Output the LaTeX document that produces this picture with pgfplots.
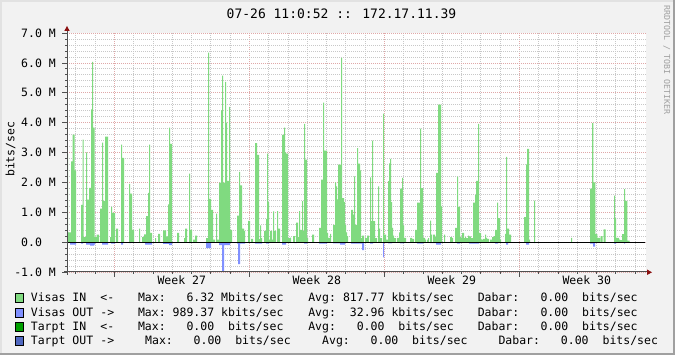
\documentclass[border=0pt]{standalone}
\usepackage{fontspec}
\setmainfont{DejaVu Sans Mono}
\usepackage{pgfplots}
\pgfplotsset{compat=1.18}
\definecolor{bgc}{HTML}{F2F2F2}
\definecolor{bdl}{HTML}{E2E2E2}
\definecolor{bdd}{HTML}{A0A0A0}
\definecolor{inG}{HTML}{80DA80}
\definecolor{outB}{HTML}{8090FF}
\definecolor{tinG}{HTML}{00A000}
\definecolor{toutB}{HTML}{5068C0}
\definecolor{gridR}{HTML}{E0A8A8}
\definecolor{gridG}{HTML}{C8C8C8}
\definecolor{axG}{HTML}{505050}
\definecolor{arrR}{HTML}{8B1010}
\definecolor{wm}{HTML}{A0A0A0}
\newcommand{\lf}{\fontsize{11.5bp}{13bp}\selectfont}
\begin{document}
\begin{tikzpicture}
\fill[bgc] (0,0) rectangle (675bp,355bp);
\fill[bdl] (0,0) rectangle (2bp,355bp);
\fill[bdl] (0,353bp) rectangle (675bp,355bp);
\fill[bdd] (673bp,0) rectangle (675bp,355bp);
\fill[bdd] (0,0) rectangle (675bp,2bp);
\begin{axis}[
  at={(67bp,83bp)}, anchor=south west, scale only axis,
  width=579bp, height=239bp,
  xmin=67, xmax=646, ymin=-1, ymax=7,
  axis background/.style={fill=white},
  axis line style={draw=none},
  xtick={114.29,249.29,384.29,519.29},
  xticklabels={},
  minor xtick={75.71,95,133.57,152.86,172.14,191.43,210.71,230,268.57,287.86,307.14,326.43,345.71,365,403.57,422.86,442.14,461.43,480.71,500,538.57,557.86,577.14,596.43,615.71,635},
  ytick={-1,0,1,2,3,4,5,6,7},
  yticklabels={-1.0 M,0.0\phantom{\ M},1.0 M,2.0 M,3.0 M,4.0 M,5.0 M,6.0 M,7.0 M},
  minor y tick num=4,
  xmajorgrids, xminorgrids, ymajorgrids, yminorgrids,
  major grid style={gridR, line width=0.7bp, dash pattern=on 1bp off 1bp},
  minor grid style={gridG, line width=0.7bp, dash pattern=on 1bp off 1bp},
  tick align=outside, xtick pos=bottom, ytick pos=left,
  major tick length=5bp, minor tick length=2bp,
  every tick/.style={axG, line width=0.7bp},
  yticklabel style={font=\lf, anchor=east, inner sep=0pt, xshift=-6bp},
  extra x ticks={181.79,316.79,451.79,586.79},
  extra x tick labels={Week 27,Week 28,Week 29,Week 30},
  extra x tick style={grid=none, major tick length=0pt, xticklabel style={font=\lf, anchor=base, inner sep=0pt, yshift=-13bp}},
]
\addplot[const plot, fill=inG, draw=none] coordinates {
(67,2.95)(68,0.33)(71,2.7)(72.7,3.6)(74.7,2.4)(76,0)(81,1.25)(82.7,3.43)(83.7,0.17)(86,3.0)(87,1.42)(89,1.82)(91,4.44)(92,6.03)(93,3.83)(94.7,0.17)(96.7,0.25)(99,0)(100,1.12)(102,3.33)(103,1.38)(105,3.53)(108,0)(110,0.17)(111,1.18)(112,0.98)(115,0)(116,0.45)(118,0)(121,3.26)(122,2.82)(124,0)(129,1.95)(130,1.62)(132,0.41)(134,0)(139,0.45)(140,0)(142,0.17)(144,0.26)(146,0.87)(148,1.65)(149,3.26)(150,0.31)(152,0)(155,0.13)(156,0)(158,0.28)(160,0)(163,0.39)(166,0.19)(168,1.26)(169,3.83)(170,3.29)(172,0)(177,0.31)(179,0)(184,0.13)(185,0.45)(187,0)(189,2.29)(190,0.41)(192,0)(193,0.08)(195,0.22)(197,0)(206,0.13)(208,6.34)(209,1.45)(211,1.08)(213,0.08)(215,0)(216,0.95)(217,0.08)(219,1.99)(221,4.41)(222,5.57)(223,1.99)(225,5.36)(226,4.0)(227,2.05)(229,4.53)(230,0.41)(232,0)(237,0.89)(239,2.35)(240,1.9)(242,0.45)(244,0.38)(245,0)(248,0.71)(250,0)(251,0.11)(253,0)(255,3.31)(257,2.92)(259,0.1)(260,0.56)(261,0.13)(262,0)(264,0.38)(266,0.78)(267,2.96)(268,1.34)(269,0.08)(270,0.38)(272,0.08)(273,1.03)(274,0.38)(276,0)(277,1.04)(278,0.45)(280,0)(282,3.59)(284,3.83)(285,3.0)(286,2.96)(288,0.13)(290,0.15)(291,0)(293,0.2)(295,0)(296,0.65)(298,0.17)(299,1.04)(300,0.41)(302,1.37)(303,0.37)(304,3.96)(305,2.76)(307,0.13)(308,0)(312,0.25)(314,0)(319,0.48)(321,2.09)(323,4.67)(324,3.06)(327,0.31)(328,0.14)(330,0.28)(331,0)(333,0.58)(335,2.0)(336,1.87)(337,1.43)(338,2.59)(341,6.17)(342,1.47)(344,1.34)(345,0.58)(346,0.33)(347,0.2)(348,0)(351,1.08)(353,0.92)(354,2.2)(355,0.58)(357,3.15)(358,2.63)(360,2.4)(361,0.13)(362,0.22)(364,0)(365,0.13)(367,0.22)(369,0)(370,2.17)(371,0.7)(372,3.4)(373,0.7)(375,0.13)(377,0)(378,1.87)(379,0.45)(380,0.13)(382,0)(383,4.3)(384,0.25)(386,0.08)(388,2.04)(389,2.64)(390,2.79)(391,1.34)(392,0.48)(393,0.22)(394,0.13)(396,0)(397,0.14)(399,0.33)(400,1.79)(402,2.15)(403,0.56)(404,0.14)(406,0)(410,0.14)(412,0.11)(414,0)(415,0.41)(417,1.32)(420,3.8)(421,1.81)(423,0.14)(425,0.08)(426,0)(427,0.08)(428,0.13)(429,0)(430,0.72)(431,0.25)(432,0)(433,0.25)(435,0.17)(436,2.32)(438,4.6)(441,1.2)(442,0)(444,0.25)(445,0)(450,0.17)(452,0.13)(453,0)(455,0.48)(457,2.19)(458,1.18)(460,0.18)(461,0.13)(462,0.31)(464,0.13)(465,0.17)(466,0.13)(468,0.22)(469,0.19)(471,0.13)(473,1.32)(475,1.58)(476,2.05)(478,3.96)(479,0.31)(481,0.09)(482,0.08)(483,0.11)(485,0.25)(486,0.14)(487,0.11)(489,0)(490,0.08)(492,0.17)(494,0.2)(495,0.41)(497,1.32)(498,0.8)(500,0.08)(501,0)(505,0.28)(506,2.85)(507,0.45)(509,0.25)(511,0)(524,0.84)(526,2.6)(527,3.12)(529,0.08)(530,0)(534,1.39)(535,0)(571,0.14)(572,0)(590,1.79)(592,3.98)(593.3,2.0)(595.3,0.27)(597.3,0.14)(600,0)(600.7,0.2)(602.7,0)(603.7,0.43)(605.7,0)(614,1.56)(615,0.8)(616,0.14)(619,0.08)(620,0.07)(622,0.27)(624,1.77)(625,1.38)(627.3,0)(627.7,0.05)(629.7,0)(646,0)
} \closedcycle;
\addplot[const plot, fill=outB, draw=none] coordinates {
(67,-0.05)(68,0)(70,-0.08)(76,0)(81,-0.05)(83,0)(86,-0.08)(90,-0.12)(94,-0.08)(95,0)(102,-0.08)(108,0)(111,-0.05)(115,0)(121,-0.08)(123,0)(129,-0.03)(131,0)(145,-0.08)(152,0)(163,-0.06)(169,-0.1)(172,0)(189,-0.03)(190,0)(206,-0.2)(211,0)(219,-0.1)(222,-0.98)(224,-0.1)(230,0)(237,-0.05)(238,-0.74)(240,-0.05)(245,0)(255,-0.05)(262,0)(266,-0.05)(269,0)(282,-0.08)(286,0)(294,-0.03)(297,0)(304,-0.05)(307,0)(319,-0.05)(327,0)(333,-0.04)(340,-0.08)(345,0)(351,-0.05)(362,-0.27)(364,0)(370,-0.05)(373,0)(383,-0.51)(384,0)(388,-0.04)(392,0)(400,-0.04)(404,0)(417,-0.05)(423,0)(430,-0.03)(436,-0.08)(441,0)(457,-0.05)(460,0)(469,-0.05)(479,0)(495,-0.05)(498,0)(506,-0.08)(508,0)(526,-0.08)(529,0)(534,-0.03)(535,0)(590,-0.05)(593,-0.15)(595,0)(614,-0.05)(616,0)(624,-0.05)(625,0)(646,0)
} \closedcycle;
\draw[black, line width=1bp] (axis cs:67,0) -- (axis cs:645,0);
\end{axis}
% axes
\draw[axG, line width=1bp] (67bp,80bp) -- (67bp,326bp);
\draw[axG, line width=1bp] (64bp,83bp) -- (648bp,83bp);
\fill[arrR] (64.3bp,324bp) -- (69.7bp,324bp) -- (67bp,329bp) -- cycle;
\fill[arrR] (647bp,85.5bp) -- (647bp,80bp) -- (652bp,82.7bp) -- cycle;
% title and labels
\node[anchor=base, inner sep=0pt, font=\fontsize{13bp}{15bp}\selectfont] at (341.5bp,336.7bp) {07-26 11:0:52 :: 172.17.11.39};
\node[rotate=90, inner sep=0pt, font=\lf] at (10.5bp,205.8bp) {bits/sec};
\node[rotate=-90, inner sep=0pt, text=wm, font=\fontsize{8.3bp}{9bp}\selectfont] at (666.7bp,295bp) {RRDTOOL / TOBI OETIKER};
% legend
\foreach \b/\c in {53/inG,38.7/outB,24.5/tinG,10.5/toutB}{
  \filldraw[fill=\c, draw=black, line width=0.9bp] (15.5bp,\b bp-0.8bp) rectangle (23bp,\b bp+8.2bp);
}
\begin{scope}[every node/.style={anchor=base west, inner sep=0pt, font=\lf}]
\node at (30.7bp,53bp) {Visas IN};
\node at (100.2bp,53bp) {<-};
\node at (137.8bp,53bp) {Max:};
\node at (186.3bp,53bp) {6.32};
\node at (221bp,53bp) {Mbits/sec};
\node at (308.1bp,53bp) {Avg:};
\node at (342.8bp,53bp) {817.77};
\node at (391.3bp,53bp) {kbits/sec};
\node at (477.6bp,53bp) {Dabar:};
\node at (540.3bp,53bp) {0.00};
\node at (582bp,53bp) {bits/sec};
\node at (30.7bp,38.7bp) {Visas OUT};
\node at (100.2bp,38.7bp) {->};
\node at (137.8bp,38.7bp) {Max:};
\node at (172.5bp,38.7bp) {989.37};
\node at (221bp,38.7bp) {kbits/sec};
\node at (308.1bp,38.7bp) {Avg:};
\node at (349.7bp,38.7bp) {32.96};
\node at (391.3bp,38.7bp) {kbits/sec};
\node at (477.6bp,38.7bp) {Dabar:};
\node at (540.3bp,38.7bp) {0.00};
\node at (582bp,38.7bp) {bits/sec};
\node at (30.7bp,24.5bp) {Tarpt IN};
\node at (100.2bp,24.5bp) {<-};
\node at (137.8bp,24.5bp) {Max:};
\node at (186.3bp,24.5bp) {0.00};
\node at (227.9bp,24.5bp) {bits/sec};
\node at (308.1bp,24.5bp) {Avg:};
\node at (356.6bp,24.5bp) {0.00};
\node at (398.2bp,24.5bp) {bits/sec};
\node at (477.6bp,24.5bp) {Dabar:};
\node at (540.3bp,24.5bp) {0.00};
\node at (582bp,24.5bp) {bits/sec};
\node at (30.7bp,10.5bp) {Tarpt OUT};
\node at (100.2bp,10.5bp) {->};
\node at (145bp,10.5bp) {Max:};
\node at (193.5bp,10.5bp) {0.00};
\node at (235.1bp,10.5bp) {bits/sec};
\node at (322bp,10.5bp) {Avg:};
\node at (370.5bp,10.5bp) {0.00};
\node at (412bp,10.5bp) {bits/sec};
\node at (498.3bp,10.5bp) {Dabar:};
\node at (560.7bp,10.5bp) {0.00};
\node at (602.4bp,10.5bp) {bits/sec};
\end{scope}
\end{tikzpicture}
\end{document}
